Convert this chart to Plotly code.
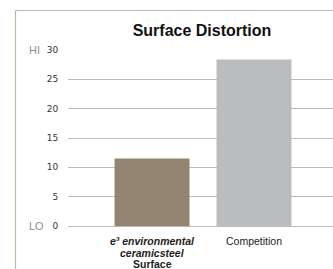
import plotly.graph_objects as go

categories = ["e3", "Competition"]
label_lines = [
    ["<b><i>e³ environmental</i></b>", "<b><i>ceramicsteel</i></b>", "<b>Surface</b>"],
    ["Competition"],
]
values = [11.5, 28.4]
colors = ["#928470", "#bbbcbe"]
y_ticks = [0, 5, 10, 15, 20, 25, 30]

W, H = 333, 269
L, R, T, B = 68, 0, 50, 43
pw = W - L - R
ph = H - T - B

def px_x(x):
    return (x - L) / pw

def px_y(y):
    return 1 - (y - T) / ph

fig = go.Figure(go.Bar(
    x=[0, 1], y=values, marker=dict(color=colors, line=dict(width=0)),
    width=0.735, hoverinfo="skip",
))

annotations = [
    dict(text="HI", xref="paper", yref="paper", x=px_x(27), y=px_y(50),
         xanchor="left", yanchor="middle", showarrow=False,
         font=dict(family="Liberation Sans, Arial", size=11, color="#8c8c8c")),
    dict(text="LO", xref="paper", yref="paper", x=px_x(27), y=px_y(226),
         xanchor="left", yanchor="middle", showarrow=False,
         font=dict(family="Liberation Sans, Arial", size=11, color="#8c8c8c")),
]
for i, lines in enumerate(label_lines):
    for j, line in enumerate(lines):
        annotations.append(dict(
            text=line, xref="x", yref="paper", x=i, y=px_y(241 + 11.5 * j),
            xanchor="center", yanchor="middle", showarrow=False,
            font=dict(family="Liberation Sans, Arial", size=10.5, color="#222")))

fig.update_layout(
    width=W, height=H, margin=dict(l=L, r=R, t=T, b=B),
    paper_bgcolor="white", plot_bgcolor="white",
    showlegend=False,
    title=dict(text="<b>Surface Distortion</b>", x=202 / W, xanchor="center",
               y=1 - 30 / H, yanchor="middle",
               font=dict(family="Liberation Sans, Arial", size=16, color="#111")),
    xaxis=dict(range=[-0.824, 1.775], tickvals=[0, 1], showticklabels=False,
               automargin=False,
               showgrid=False, zeroline=False, showline=False, ticks=""),
    yaxis=dict(range=[0, 30], tickvals=y_ticks, showgrid=True, gridcolor="#bcbcbc",
               automargin=False,
               gridwidth=1.3, zeroline=True, zerolinecolor="#bcbcbc", zerolinewidth=1.3,
               showline=False, ticks="outside", ticklen=7, tickcolor="rgba(0,0,0,0)",
               tickfont=dict(family="DejaVu Sans", size=9, color="#333")),
    shapes=[
        dict(type="line", xref="paper", yref="paper", x0=px_x(15.5), x1=px_x(340),
             y0=px_y(10.5), y1=px_y(10.5), line=dict(color="#c2b6a6", width=1.2)),
        dict(type="line", xref="paper", yref="paper", x0=px_x(15.5), x1=px_x(15.5),
             y0=px_y(10.5), y1=px_y(280), line=dict(color="#c2b6a6", width=1.2)),
    ],
    annotations=annotations,
)

fig.write_html("out.html", config={"displayModeBar": False},
               post_script="document.body.style.margin='0';document.body.style.overflow='hidden';")
